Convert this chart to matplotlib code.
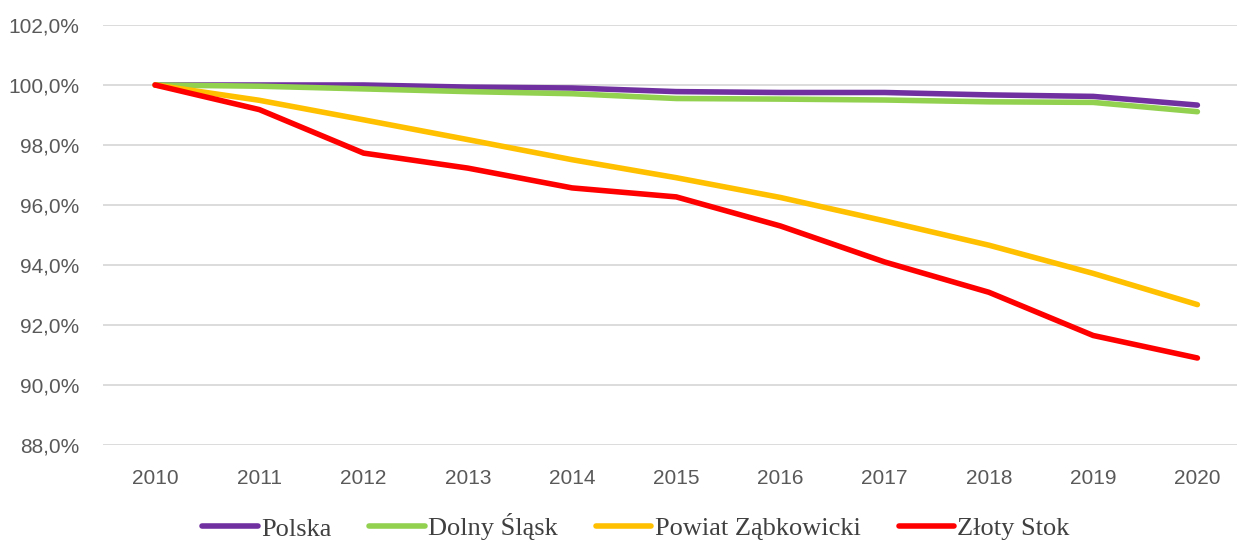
import matplotlib.pyplot as plt
from matplotlib.ticker import FuncFormatter

years = [2010, 2011, 2012, 2013, 2014, 2015, 2016, 2017, 2018, 2019, 2020]
polska = [100.0, 100.0, 100.0, 99.93, 99.9, 99.78, 99.75, 99.75, 99.67, 99.62, 99.33]
dolny_slask = [100.0, 99.96, 99.87, 99.78, 99.71, 99.55, 99.53, 99.5, 99.44, 99.42, 99.11]
powiat = [100.0, 99.49, 98.84, 98.18, 97.51, 96.91, 96.25, 95.47, 94.66, 93.72, 92.68]
zloty_stok = [100.0, 99.18, 97.73, 97.23, 96.57, 96.27, 95.3, 94.1, 93.09, 91.65, 90.9]

names = ['Polska', 'Dolny Śląsk', 'Powiat Ząbkowicki', 'Złoty Stok']
colors = ['#7030A0', '#92D050', '#FFC000', '#FF0000']

fig = plt.figure(figsize=(12.37, 5.43), dpi=100)
ax = fig.add_axes([103 / 1237, 1 - 445 / 543, (1237 - 103) / 1237, 420 / 543])

for vals, name, col in zip([polska, dolny_slask, powiat, zloty_stok], names, colors):
    ax.plot(years, vals, color=col, lw=4, label=name, solid_capstyle='round')

ax.set_ylim(88, 102)
ax.set_xlim(2009.5, 2020.38)
ax.set_yticks(range(88, 103, 2))
ax.set_xticks(years)
ax.yaxis.set_major_formatter(FuncFormatter(lambda v, p: f'{v:.1f}%'.replace('.', ',')))
ax.grid(axis='y', color='#d9d9d9', lw=1.3)
ax.set_axisbelow(True)
for s in ax.spines.values():
    s.set_visible(False)
ax.tick_params(length=0, labelsize=15, labelcolor='#595959')
ax.tick_params(axis='y', pad=17)
ax.tick_params(axis='x', pad=17)
for lab in ax.get_xticklabels() + ax.get_yticklabels():
    lab.set_fontfamily('Liberation Sans')

leg = fig.legend(loc='center', bbox_to_anchor=(636 / 1237, 1 - 527 / 543), ncol=4, frameon=False,
                 prop={'family': 'Liberation Serif', 'size': 19}, handlelength=2.1,
                 handletextpad=0.12, columnspacing=1.45)
for t in leg.get_texts():
    t.set_color('#404040')

fig.savefig('out.png', dpi=100)
